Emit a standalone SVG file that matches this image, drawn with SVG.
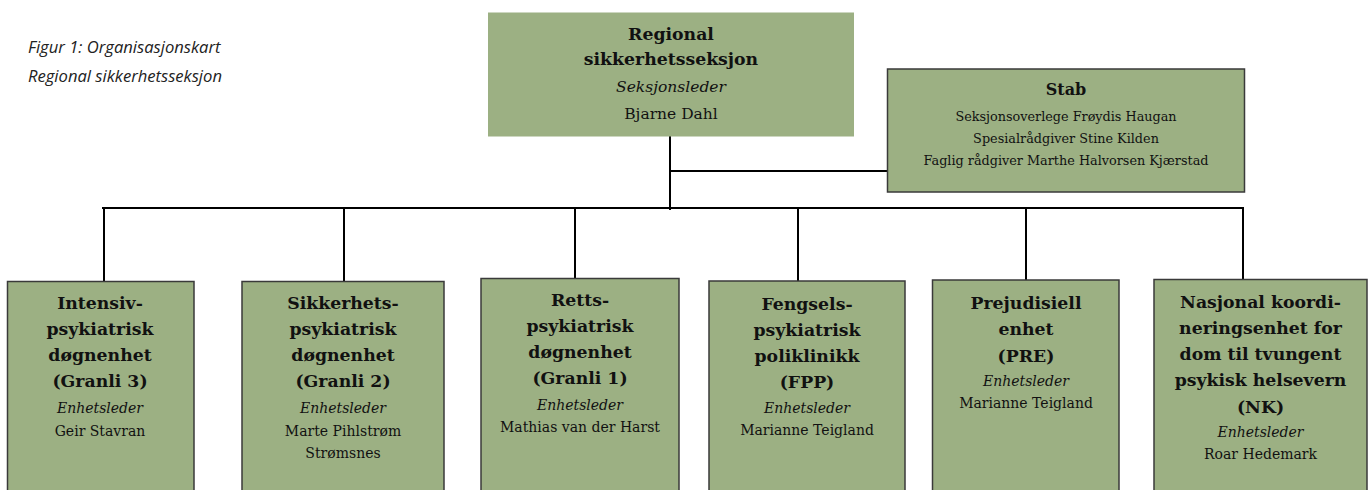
<svg xmlns="http://www.w3.org/2000/svg" width="1370" height="490" viewBox="0 0 1370 490">
<style>
.box{fill:#9cb083;stroke:#3a3a3a;stroke-width:1.5}
.top{fill:#9cb083;stroke:none}
.t{font-family:"DejaVu Serif",serif;fill:#111;text-anchor:middle}
.b{font-weight:bold;font-size:17.3px}
.i{font-style:italic;font-size:14px}
.r{font-size:14px}
.cap{font-family:"Open Sans","Liberation Sans",sans-serif;font-style:italic;font-size:16.6px;fill:#222}
.ln{stroke:#000;stroke-width:2;fill:none}
</style>
<rect width="1370" height="490" fill="#fff"/>
<g id="caption">
<text class="cap" x="28" y="53">Figur 1: Organisasjonskart</text>
<text class="cap" x="28" y="82">Regional sikkerhetsseksjon</text>
</g>
<g id="connectors">
<path class="ln" d="M670 136 V210"/>
<path class="ln" d="M670 171 H888"/>
<path class="ln" d="M102 208 H1243"/>
<path class="ln" d="M104 208 V282"/>
<path class="ln" d="M344 208 V282"/>
<path class="ln" d="M575 208 V279"/>
<path class="ln" d="M798 208 V281"/>
<path class="ln" d="M1026 208 V280"/>
<path class="ln" d="M1243 207 V280"/>
</g>
<g id="regional">
<rect class="top" x="488" y="12.5" width="366" height="124"/>
<text class="t b" x="671" y="39.5">Regional</text>
<text class="t b" x="671" y="65">sikkerhetsseksjon</text>
<text class="t i" x="671" y="91.5" style="font-size:15.5px">Seksjonsleder</text>
<text class="t r" x="671" y="118.5" style="font-size:15.5px">Bjarne Dahl</text>
</g>
<g id="stab">
<rect class="box" x="887.5" y="69" width="357" height="123"/>
<text class="t b" x="1066" y="95" style="font-size:16px">Stab</text>
<text class="t r" x="1066" y="120.5" style="font-size:12.8px">Seksjonsoverlege Frøydis Haugan</text>
<text class="t r" x="1066" y="142.5" style="font-size:12.8px">Spesialrådgiver Stine Kilden</text>
<text class="t r" x="1066" y="164.5" style="font-size:12.8px">Faglig rådgiver Marthe Halvorsen Kjærstad</text>
</g>
<g id="granli3">
<rect class="box" x="7.5" y="281.5" width="186.5" height="215"/>
<text class="t b" x="100" y="309">Intensiv-</text>
<text class="t b" x="100" y="335">psykiatrisk</text>
<text class="t b" x="100" y="361">døgnenhet</text>
<text class="t b" x="100" y="387">(Granli 3)</text>
<text class="t i" x="100" y="413">Enhetsleder</text>
<text class="t r" x="100" y="435.5">Geir Stavran</text>
</g>
<g id="granli2">
<rect class="box" x="242" y="281.5" width="202" height="215"/>
<text class="t b" x="343" y="309">Sikkerhets-</text>
<text class="t b" x="343" y="335">psykiatrisk</text>
<text class="t b" x="343" y="361">døgnenhet</text>
<text class="t b" x="343" y="387">(Granli 2)</text>
<text class="t i" x="343" y="413">Enhetsleder</text>
<text class="t r" x="343" y="435.5">Marte Pihlstrøm</text>
<text class="t r" x="343" y="457.5">Strømsnes</text>
</g>
<g id="granli1">
<rect class="box" x="481" y="278.5" width="198" height="218"/>
<text class="t b" x="580" y="306">Retts-</text>
<text class="t b" x="580" y="332">psykiatrisk</text>
<text class="t b" x="580" y="358">døgnenhet</text>
<text class="t b" x="580" y="384">(Granli 1)</text>
<text class="t i" x="580" y="410">Enhetsleder</text>
<text class="t r" x="580" y="432">Mathias van der Harst</text>
</g>
<g id="fpp">
<rect class="box" x="709" y="281" width="196" height="215"/>
<text class="t b" x="807" y="309.5">Fengsels-</text>
<text class="t b" x="807" y="335.5">psykiatrisk</text>
<text class="t b" x="807" y="361.5">poliklinikk</text>
<text class="t b" x="807" y="387.5">(FPP)</text>
<text class="t i" x="807" y="413">Enhetsleder</text>
<text class="t r" x="807" y="435">Marianne Teigland</text>
</g>
<g id="pre">
<rect class="box" x="932.5" y="280" width="186.5" height="216"/>
<text class="t b" x="1026" y="308.5">Prejudisiell</text>
<text class="t b" x="1026" y="335">enhet</text>
<text class="t b" x="1026" y="361.5">(PRE)</text>
<text class="t i" x="1026" y="385.5">Enhetsleder</text>
<text class="t r" x="1026" y="407.5">Marianne Teigland</text>
</g>
<g id="nk">
<rect class="box" x="1154" y="279.5" width="213" height="217"/>
<text class="t b" x="1260.5" y="307.5">Nasjonal koordi-</text>
<text class="t b" x="1260.5" y="333.5">neringsenhet for</text>
<text class="t b" x="1260.5" y="360">dom til tvungent</text>
<text class="t b" x="1260.5" y="386">psykisk helsevern</text>
<text class="t b" x="1260.5" y="412.5">(NK)</text>
<text class="t i" x="1260.5" y="437">Enhetsleder</text>
<text class="t r" x="1260.5" y="459">Roar Hedemark</text>
</g>
</svg>
